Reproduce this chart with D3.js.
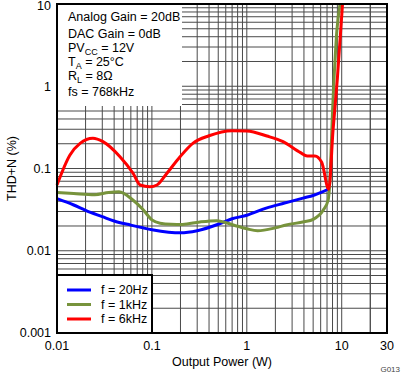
<!DOCTYPE html>
<html>
<head>
<meta charset="utf-8">
<script src="https://cdn.jsdelivr.net/npm/d3@7/dist/d3.min.js"></script>
<style>
  body { margin: 0; background: #fff; }
  svg { display: block; font-family: "Liberation Sans", Arial, sans-serif; }
</style>
</head>
<body>
<div id="chart"></div>
<script>
// Output power (W) and THD+N (%), one pair of arrays per curve
const power20Hz = [0.01, 0.015, 0.02, 0.03, 0.04, 0.06, 0.08, 0.1, 0.15, 0.2, 0.3, 0.5, 0.7, 1, 1.6, 2.5, 4, 5, 6, 7.2];
const thd20Hz = [0.043, 0.036, 0.031, 0.026, 0.023, 0.0205, 0.019, 0.018, 0.0168, 0.0165, 0.0175, 0.021, 0.0245, 0.027, 0.033, 0.038, 0.044, 0.047, 0.051, 0.056];

const power1kHz = [0.01, 0.015, 0.025, 0.035, 0.045, 0.063, 0.08, 0.1, 0.122, 0.16, 0.21, 0.32, 0.48, 0.72, 1.0, 1.3, 2.0, 2.6, 4, 5, 6.4, 7.2, 7.4, 8.1, 8.9, 9.6];
const thd1kHz = [0.051, 0.0495, 0.048, 0.051, 0.052, 0.0414, 0.032, 0.0237, 0.0216, 0.021, 0.0209, 0.0224, 0.0232, 0.0206, 0.0185, 0.0175, 0.019, 0.0206, 0.0225, 0.0241, 0.0313, 0.0414, 0.055, 0.68, 4.8, 10];

const power6kHz = [0.01, 0.0137, 0.0175, 0.0239, 0.0305, 0.0461, 0.0633, 0.0751, 0.0952, 0.113, 0.144, 0.198, 0.27, 0.4, 0.7, 1.0, 1.63, 2.41, 3.68, 4.33, 5.22, 6.15, 7.3, 8.1, 9, 10.2];
const thd6kHz = [0.063, 0.146, 0.202, 0.233, 0.212, 0.139, 0.0875, 0.063, 0.06, 0.063, 0.0875, 0.139, 0.202, 0.25, 0.288, 0.285, 0.248, 0.212, 0.156, 0.142, 0.142, 0.119, 0.056, 0.29, 1.25, 10];

const seriesLabels = ['f = 20Hz', 'f = 1kHz', 'f = 6kHz'];
const seriesColors = ['#0000ff', '#77933c', '#ff0000'];

const xTicks = [0.01, 0.1, 1, 10, 30];
const xTickLabels = ['0.01', '0.1', '1', '10', '30'];
const yTicks = [0.001, 0.01, 0.1, 1, 10];
const yTickLabels = ['0.001', '0.01', '0.1', '1', '10'];

const width = 402;
const height = 377;
const margin = { top: 4, right: 15, bottom: 44, left: 57 };

const x = d3.scaleLog().domain([0.01, 30]).range([margin.left, width - margin.right]);
const y = d3.scaleLog().domain([0.001, 10]).range([height - margin.bottom, margin.top]);

const svg = d3.select('#chart')
  .append('svg')
  .attr('width', width)
  .attr('height', height);

// minor + major grid: 1..9 in every decade
const xGrid = [];
[0.01, 0.1, 1, 10].forEach(function (dec) {
  for (let i = 1; i <= 9; i++) xGrid.push(dec * i);
});
xGrid.push(20);
const yGrid = [];
[0.001, 0.01, 0.1, 1].forEach(function (dec) {
  for (let i = 1; i <= 9; i++) yGrid.push(dec * i);
});

const grid = svg.append('g').attr('stroke', '#4a4a4a').attr('stroke-width', 1);
grid.selectAll('.vgrid')
  .data(xGrid.filter(d => d > 0.01 && d < 30))
  .join('line')
  .attr('class', 'vgrid')
  .attr('x1', d => x(d)).attr('x2', d => x(d))
  .attr('y1', y(10)).attr('y2', y(0.001));
grid.selectAll('.hgrid')
  .data(yGrid.filter(d => d > 0.001))
  .join('line')
  .attr('class', 'hgrid')
  .attr('y1', d => y(d)).attr('y2', d => y(d))
  .attr('x1', x(0.01)).attr('x2', x(30));

// conditions box, top left (white, no border)
svg.append('rect')
  .attr('x', x(0.01)).attr('y', y(10))
  .attr('width', 125).attr('height', 102)
  .attr('fill', '#fff');

const cond = svg.append('text')
  .attr('font-size', 12.5)
  .attr('fill', '#000');
const condLines = [
  [['Analog Gain = 20dB']],
  [['DAC Gain = 0dB']],
  [['PV'], ['CC', true], [' = 12V']],
  [['T'], ['A', true], [' = 25°C']],
  [['R'], ['L', true], [' = 8Ω']],
  [['fs = 768kHz']]
];
const condY = [21, 38, 52, 66, 80, 96];
condLines.forEach(function (parts, i) {
  parts.forEach(function (p, j) {
    const t = cond.append('tspan').text(p[0]);
    if (j === 0) t.attr('x', 68).attr('y', condY[i]);
    if (p[1]) t.attr('font-size', 9).attr('dy', 2.5);
    else if (j > 0 && parts[j - 1][1]) t.attr('dy', -2.5);
  });
});

// curves
const series = [
  power20Hz.map((p, i) => [p, thd20Hz[i]]),
  power1kHz.map((p, i) => [p, thd1kHz[i]]),
  power6kHz.map((p, i) => [p, thd6kHz[i]])
];
const line = d3.line()
  .x(d => x(d[0]))
  .y(d => y(d[1]))
  .curve(d3.curveMonotoneX);

svg.append('g')
  .selectAll('path')
  .data(series)
  .join('path')
  .attr('d', line)
  .attr('fill', 'none')
  .attr('stroke', (d, i) => seriesColors[i])
  .attr('stroke-width', 3)
  .attr('stroke-linejoin', 'round');

// frame
svg.append('rect')
  .attr('x', x(0.01)).attr('y', y(10))
  .attr('width', x(30) - x(0.01)).attr('height', y(0.001) - y(10))
  .attr('fill', 'none')
  .attr('stroke', '#000')
  .attr('stroke-width', 2);

// legend, bottom left
const legend = svg.append('g');
legend.append('rect')
  .attr('x', x(0.01)).attr('y', 275)
  .attr('width', 95).attr('height', y(0.001) - 275)
  .attr('fill', '#fff')
  .attr('stroke', '#000')
  .attr('stroke-width', 2);
const legendItems = legend.selectAll('.item')
  .data(seriesLabels)
  .join('g')
  .attr('class', 'item')
  .attr('transform', (d, i) => 'translate(0,' + (290 + i * 14.5) + ')');
legendItems.append('line')
  .attr('x1', 67).attr('x2', 91)
  .attr('stroke', (d, i) => seriesColors[i])
  .attr('stroke-width', 3);
legendItems.append('text')
  .attr('x', 101).attr('dy', '0.35em')
  .attr('font-size', 12.5)
  .text(d => d);

// axes labels
svg.append('g')
  .selectAll('text')
  .data(xTicks)
  .join('text')
  .attr('x', d => x(d))
  .attr('y', y(0.001) + 17)
  .attr('text-anchor', 'middle')
  .attr('font-size', 12.5)
  .text((d, i) => xTickLabels[i]);

svg.append('g')
  .selectAll('text')
  .data(yTicks)
  .join('text')
  .attr('x', 51)
  .attr('y', d => Math.max(y(d), 5.5))
  .attr('dy', '0.35em')
  .attr('text-anchor', 'end')
  .attr('font-size', 12.5)
  .text((d, i) => yTickLabels[i]);

svg.append('text')
  .attr('x', (x(0.01) + x(30)) / 2)
  .attr('y', 366)
  .attr('text-anchor', 'middle')
  .attr('font-size', 12.5)
  .text('Output Power (W)');

svg.append('text')
  .attr('transform', 'translate(16,' + (y(0.001) + y(10)) / 2 + ') rotate(-90)')
  .attr('text-anchor', 'middle')
  .attr('font-size', 12.5)
  .text('THD+N (%)');

svg.append('text')
  .attr('x', 400).attr('y', 372)
  .attr('text-anchor', 'end')
  .attr('font-size', 8)
  .attr('fill', '#444')
  .text('G013');
</script>
</body>
</html>
